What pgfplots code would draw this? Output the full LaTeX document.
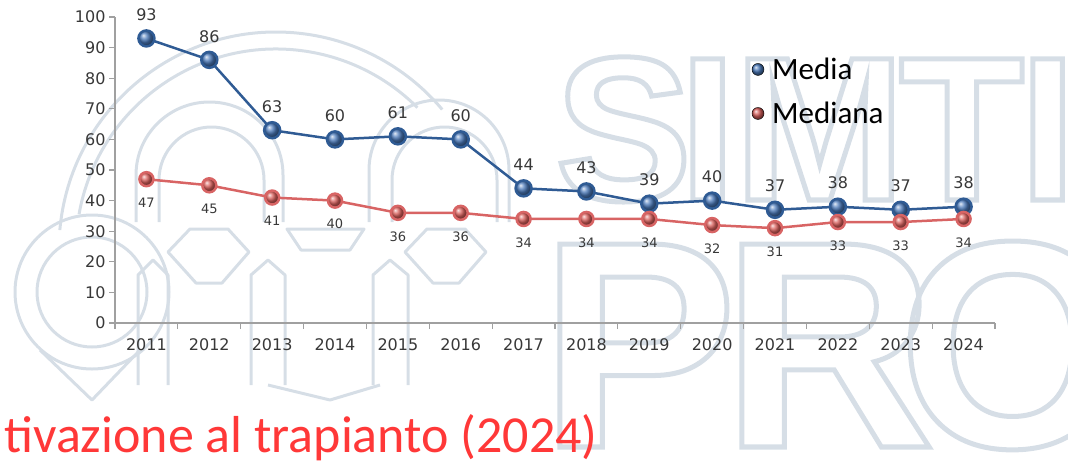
\documentclass[border=0pt]{standalone}
\usepackage{fontspec}
\setmainfont{DejaVu Sans}
\newfontfamily\carlito{Carlito}
\newfontfamily\wmfont{Liberation Sans}
\usepackage{pgfplots}
\pgfplotsset{compat=1.18}

\definecolor{mediablue}{HTML}{2F5B94}
\definecolor{ballblue}{HTML}{4A79BA}
\definecolor{medianared}{HTML}{D86464}
\definecolor{ballred}{HTML}{D95F5B}
\definecolor{axgray}{HTML}{A0A0A0}
\definecolor{txt}{HTML}{383838}
\definecolor{redtitle}{HTML}{FF3838}
\definecolor{wm}{HTML}{D6DEE6}

% outlined watermark letters (text render mode 1 = stroke only)
\newcommand{\wmletter}[4]{% x, baseline y, size, letter
  \node[anchor=base west, inner sep=0, font=\wmfont\bfseries\fontsize{#3}{#3}\selectfont]
    at (#1pt,#2pt) {\special{pdf:literal direct q 1 Tr 5 w 0.84 0.871 0.902 RG}#4\special{pdf:literal direct Q}};}

\begin{document}
\begin{tikzpicture}[x=1pt,y=1pt]
\useasboundingbox (0,0) rectangle (1068,-472);

% watermark: letters
\wmletter{555}{-200}{205}{S}
\wmletter{679}{-200}{205}{I}
\wmletter{734}{-200}{205}{M}
\wmletter{899}{-200}{205}{T}
\wmletter{1019}{-200}{205}{I}
\wmletter{540}{-447}{295}{P}
\wmletter{722}{-447}{295}{R}
\wmletter{898}{-447}{295}{O}

% watermark: logo
\begin{scope}[draw=wm, line width=3pt, line join=round]
  \draw (276,-249) ++(175:217) arc[start angle=175, end angle=40, radius=217];
  \draw (276,-249) ++(170:200) arc[start angle=170, end angle=45, radius=200];
  \draw (92,-292) circle[radius=77];
  \draw (92,-292) circle[radius=55];
  \draw (136,-222) -- (136,-175) arc[start angle=180, end angle=0, x radius=73.5, y radius=73] -- (283,-222);
  \draw (159,-222) -- (159,-180) arc[start angle=180, end angle=0, x radius=52.5, y radius=53] -- (264,-222);
  \draw (369,-222) -- (369,-170) arc[start angle=180, end angle=0, x radius=70, y radius=70] -- (509,-222);
  \draw (392,-222) -- (392,-180) arc[start angle=180, end angle=0, x radius=52.5, y radius=53] -- (497,-222);
  \draw (168,-252) -- (190,-229) -- (228,-229) -- (249,-252) -- (222,-283) -- (196,-283) -- cycle;
  \draw (287,-229) -- (364,-229) -- (350,-250) -- (301,-250) -- cycle;
  \draw (405,-252) -- (427,-229) -- (465,-229) -- (486,-252) -- (459,-283) -- (433,-283) -- cycle;
  \draw (138,-385) -- (138,-275) -- (153,-260) -- (168,-275) -- (168,-385);
  \draw (251,-385) -- (251,-275) -- (268,-260) -- (285,-275) -- (285,-385);
  \draw (373,-385) -- (373,-275) -- (390,-260) -- (408,-275) -- (408,-385);
  \draw (40,-350) -- (92,-400) -- (140,-350);
  \draw (268,-385) -- (330,-400) -- (380,-385);
\end{scope}

\begin{axis}[
  at={(115pt,-323pt)}, anchor=south west,
  scale only axis, width=880pt, height=306pt,
  xmin=-0.5, xmax=13.5, ymin=0, ymax=100,
  clip=false,
  axis x line=bottom, axis y line=left,
  axis line style={-, draw=axgray, line width=1.3pt},
  tick align=outside,
  major tick length=6pt,
  tick style={draw=axgray, line width=1.2pt},
  xtick={-0.5,0.5,...,13.5}, xticklabels={},
  extra x ticks={0,1,...,13},
  extra x tick labels={2011,2012,2013,2014,2015,2016,2017,2018,2019,2020,2021,2022,2023,2024},
  extra x tick style={major tick length=0pt, tick label style={yshift=-12pt}},
  ytick={0,10,...,100},
  ticklabel style={font=\fontsize{16}{16}\selectfont, text=txt},
  /pgf/number format/assume math mode=true,
  legend style={at={(rel axis cs:0.72,0.88)}, anchor=north west, draw=none, fill=none,
    font=\carlito\fontsize{31}{31}\selectfont, row sep=17pt, column sep=6pt},
  legend cell align=left,
]
\addplot[color=mediablue, line width=2.5pt, mark=ball, mark size=8pt, mark options={ball color=ballblue}, forget plot,
  nodes near coords,
  every node near coord/.append style={anchor=south, yshift=13pt, font=\fontsize{16}{16}\selectfont, text=txt}]
  coordinates {
  (0,93) (1,86) (2,63) (3,60) (4,61) (5,60) (6,44)
  (7,43) (8,39) (9,40) (10,37) (11,38) (12,37) (13,38)
  };
\addplot[color=medianared, line width=2.5pt, mark=ball, mark size=7pt, mark options={ball color=ballred}, forget plot,
  nodes near coords,
  every node near coord/.append style={anchor=north, yshift=-14pt, font=\fontsize{13}{13}\selectfont, text=txt}]
  coordinates {
  (0,47) (1,45) (2,41) (3,40) (4,36) (5,36) (6,34)
  (7,34) (8,34) (9,32) (10,31) (11,33) (12,33) (13,34)
  };
\addlegendimage{only marks, mark=ball, mark size=6pt, mark options={ball color=ballblue}}
\addlegendentry{Media}
\addlegendimage{only marks, mark=ball, mark size=6pt, mark options={ball color=ballred}}
\addlegendentry{Mediana}
\end{axis}

\node[anchor=base east, inner sep=0, text=redtitle, font=\carlito\fontsize{52}{52}\selectfont]
  at (598pt,-452pt) {tivazione al trapianto (2024)};
\end{tikzpicture}
\end{document}
